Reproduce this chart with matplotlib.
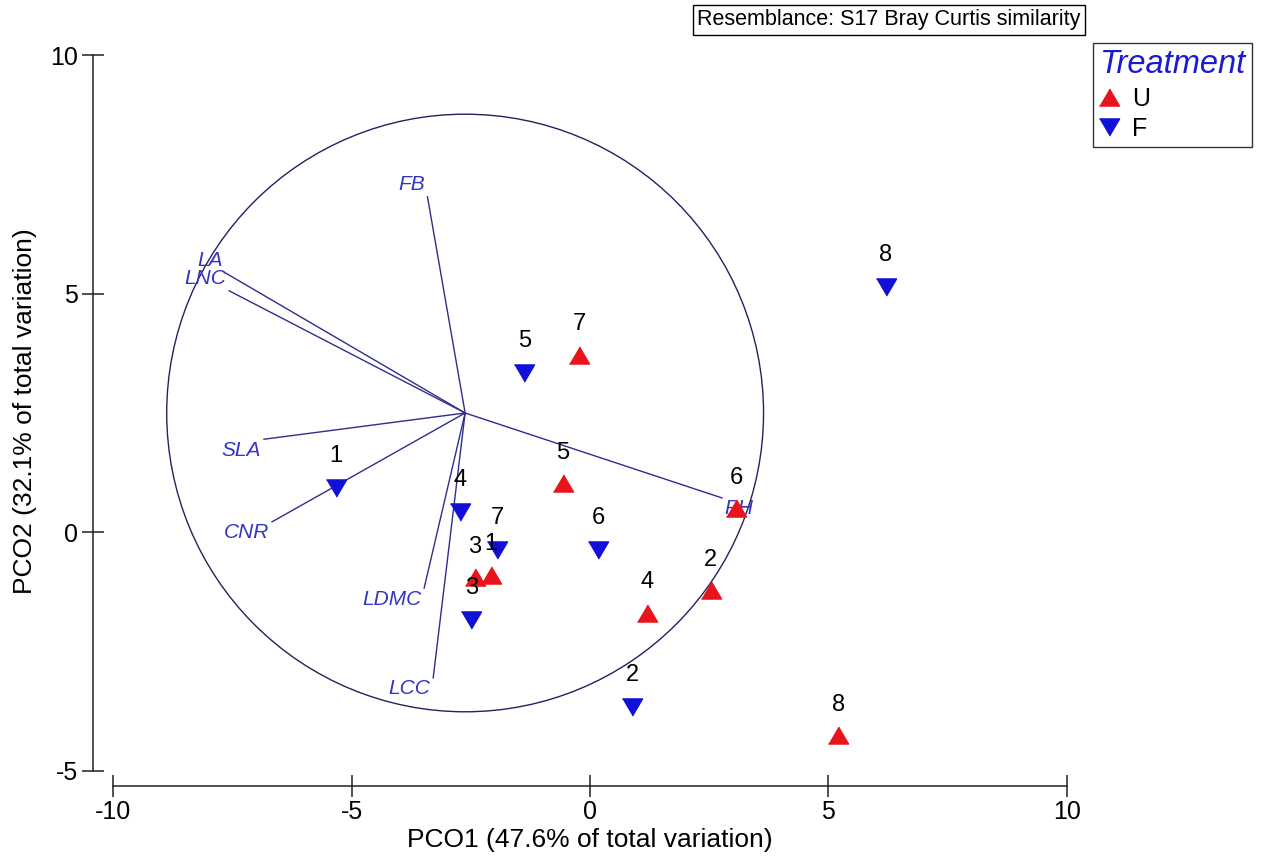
import matplotlib
matplotlib.use('Agg')
from matplotlib import pyplot as plt
from matplotlib.lines import Line2D
from matplotlib.patches import Circle

plt.rcParams['font.family'] = ['Liberation Sans', 'DejaVu Sans']
plt.rcParams['axes.unicode_minus'] = False

# PCO scores for the unfertilised (U) samples
uLabels = ["1", "2", "3", "4", "5", "6", "7", "8"]
uX = [-2.08, 2.53, -2.41, 1.19, -0.57, 3.06, -0.23, 5.21]
uY = [-0.89, -1.21, -0.94, -1.68, 1.03, 0.50, 3.72, -4.25]

# PCO scores for the fertilised (F) samples
fLabels = ["1", "2", "3", "4", "5", "6", "7", "8"]
fX = [-5.33, 0.89, -2.49, -2.73, -1.38, 0.17, -1.95, 6.21]
fY = [0.93, -3.65, -1.84, 0.43, 3.34, -0.37, -0.37, 5.15]

# Trait vectors (end points) drawn from the centre of the correlation circle
vecNames = ["FB", "LA", "LNC", "SLA", "CNR", "LDMC", "LCC", "PH"]
vecX = [-3.41, -7.64, -7.57, -6.84, -6.67, -3.48, -3.29, 2.77]
vecY = [7.03, 5.43, 5.06, 1.95, 0.22, -1.17, -3.05, 0.72]
vecOrigin = (-2.62, 2.50)
circleRadius = 6.26

xTicks = [-10, -5, 0, 5, 10]
yTicks = [-5, 0, 5, 10]

redCol = "#e8141c"
blueCol = "#1010d8"
vecCol = "#2e2e8c"
vecTextCol = "#3434c4"

# Triangles a little wider than tall, like the original
upTri = [(-1, -0.85), (1, -0.85), (0, 0.85)]
downTri = [(-1, 0.85), (1, 0.85), (0, -0.85)]

fig = plt.figure(figsize=(12.63, 8.60), dpi=100)
W, H = 1263, 860
axW = 1100 - 93.3
axH = 746
# axes placed so that the spines sit where they do in the reference
ax = fig.add_axes([93.3 / W, 74 / H, axW / W, axH / H])
ax.set_xlim(-10.42, -10.42 + axW / 47.67)
ax.set_ylim(-5.315, -5.315 + axH / 47.73)

# Correlation circle and vectors
ax.add_patch(Circle(vecOrigin, circleRadius, fill=False, edgecolor="#22225e", linewidth=1.0, zorder=1))
for name, vx, vy in zip(vecNames, vecX, vecY):
    ax.plot([vecOrigin[0], vx], [vecOrigin[1], vy], color=vecCol, linewidth=1.0, zorder=1)
    dx = vx - vecOrigin[0]
    dy = vy - vecOrigin[1]
    ha = "right" if dx < 0 else "left"
    va = "bottom" if dy > 0 else "top"
    ax.annotate(name, (vx, vy), xytext=(-2 if dx < 0 else 2, 2 if dy > 0 else -1),
                textcoords="offset points", ha=ha, va=va, fontsize=15,
                style="italic", color=vecTextCol, zorder=2)

# Sample points
ax.plot(uX, uY, linestyle="none", marker=upTri, markersize=14.5, color=redCol, zorder=3)
ax.plot(fX, fY, linestyle="none", marker=downTri, markersize=14.5, color=blueCol, zorder=3)
for lab, x, y in zip(uLabels, uX, uY):
    ax.annotate(lab, (x, y), xytext=(0, 22), textcoords="offset points",
                ha="center", va="center", fontsize=17, zorder=4)
for lab, x, y in zip(fLabels, fX, fY):
    ax.annotate(lab, (x, y), xytext=(0, 23), textcoords="offset points",
                ha="center", va="center", fontsize=17, zorder=4)

# Detached axes like PRIMER output
ax.spines["top"].set_visible(False)
ax.spines["right"].set_visible(False)
ax.spines["left"].set_bounds(-5, 10)
ax.spines["bottom"].set_bounds(-10, 10)
for s in ["left", "bottom"]:
    ax.spines[s].set_linewidth(1.1)
    ax.spines[s].set_color("#202020")
ax.set_xticks(xTicks)
ax.set_yticks(yTicks)
ax.tick_params(axis="both", direction="inout", length=16, width=1.1, color="#202020", labelsize=18)
ax.tick_params(axis="x", pad=2)
ax.tick_params(axis="y", pad=3)
ax.set_xlabel("PCO1 (47.6% of total variation)", fontsize=19)
ax.set_ylabel("PCO2 (32.1% of total variation)", fontsize=19)
ax.xaxis.set_label_coords((590 - 93.3) / axW, -42 / axH)
ax.yaxis.set_label_coords(-56 / axW, (786 - 411) / axH)

# Resemblance box at the top
fig.text(889 / W, 1 - 20 / H, "Resemblance: S17 Bray Curtis similarity", fontsize=15.5,
         ha="center", va="center",
         bbox=dict(boxstyle="square,pad=0.22", facecolor="white", edgecolor="black", linewidth=1))

# Legend
handles = [Line2D([], [], linestyle="none", marker=upTri, markersize=14.5, color=redCol),
           Line2D([], [], linestyle="none", marker=downTri, markersize=14.5, color=blueCol)]
leg = fig.legend(handles, ["U", "F"], loc="upper left", bbox_to_anchor=(1093 / W, 1 - 43 / H),
                 fontsize=18, frameon=True, fancybox=False, edgecolor="black",
                 handlelength=0.8, handletextpad=0.5, borderpad=0.25, labelspacing=0.25,
                 borderaxespad=0, alignment="left")
leg.set_title("Treatment", prop={"size": 23.5, "style": "italic"})
leg.get_title().set_color("#1a1ad0")
leg.get_frame().set_linewidth(1)

fig.savefig("out.png", dpi=100)
